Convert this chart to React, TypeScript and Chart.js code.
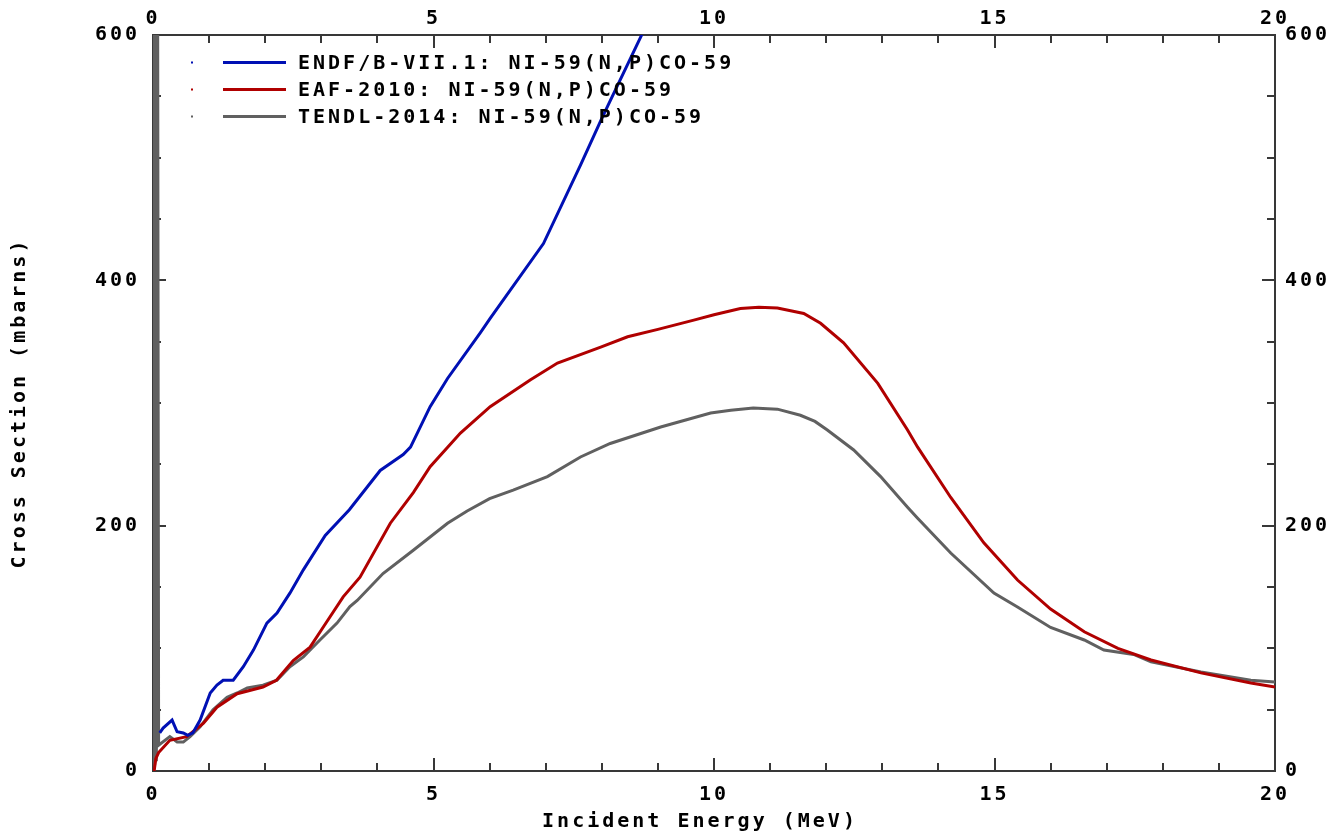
import React, { useEffect, useRef } from 'react';
import { Chart, registerables } from 'chart.js';

Chart.register(...registerables);

const FONT_FAMILY = '"DejaVu Sans Mono", "Liberation Mono", monospace';
const FONT_SIZE = 20;
const LETTER_SPACING = '3px';

// ENDF/B-VII.1
const endfE = [0.12, 0.18, 0.34, 0.43, 0.54, 0.62, 0.71, 0.84, 1.02, 1.14, 1.25, 1.43, 1.61, 1.79, 2.03, 2.21, 2.44, 2.68, 3.07, 3.5, 4.05, 4.46, 4.59, 4.94, 5.25, 5.83, 6.01, 6.96, 7.62, 8.0, 8.69, 9.0, 10.0];
const endfS = [31, 35, 41.5, 32, 31, 29, 31, 41.5, 63.6, 70, 74, 74, 85, 98.6, 120.6, 128.8, 145, 164, 192, 213, 245, 258, 264, 297, 320, 357, 369, 430, 494, 532, 598, 628, 720];

// EAF-2010
const eafE = [0.0, 0.02, 0.05, 0.1, 0.3, 0.6, 0.9, 1.14, 1.5, 1.96, 2.2, 2.5, 2.8, 3.03, 3.39, 3.69, 4.23, 4.64, 4.94, 5.48, 6.01, 6.73, 7.21, 7.98, 8.46, 9.0, 9.64, 10.0, 10.47, 10.8, 11.13, 11.6, 11.9, 12.31, 12.92, 13.45, 13.63, 14.22, 14.81, 15.41, 16.0, 16.6, 17.2, 17.79, 18.68, 19.57, 20.0];
const eafS = [0, 0, 10, 15, 25, 28, 39, 52, 63, 68.5, 74, 90, 101, 117, 142, 158, 202, 227, 248, 275.5, 297, 319, 332.6, 345.6, 354, 360, 367.6, 372, 377, 378, 377.4, 373, 365, 349, 316, 278, 264, 223, 186, 155.7, 132, 113.5, 100, 90.5, 80, 71.7, 68.5];

// TENDL-2014
const tendlE = [0.0, 0.015, 0.03, 0.045, 0.06, 0.075, 0.1, 0.3, 0.43, 0.54, 0.66, 0.84, 1.07, 1.32, 1.5, 1.68, 1.96, 2.21, 2.44, 2.68, 2.98, 3.28, 3.51, 3.64, 4.1, 4.64, 5.25, 5.6, 6.0, 6.42, 7.03, 7.62, 8.15, 9.05, 9.94, 10.3, 10.7, 11.13, 11.54, 11.8, 12.02, 12.49, 12.97, 13.45, 13.63, 14.22, 14.99, 15.41, 16.0, 16.6, 16.95, 17.48, 17.79, 18.68, 19.57, 20.0];
const tendlS = [0, 900, 5, 900, 8, 900, 21, 28, 23.6, 23.6, 28, 36, 50, 60, 63.6, 67.7, 70, 74, 85, 93, 107, 120.6, 134, 139, 161, 180, 202, 212, 222, 229, 240, 256, 267, 280.4, 291.8, 294, 296, 295, 290, 285, 278, 261.7, 240, 215, 206, 177.7, 145, 133.7, 117, 106.8, 98.6, 95, 89, 80.7, 74, 72.6];

const seriesLabels = [
  'ENDF/B-VII.1: NI-59(N,P)CO-59',
  'EAF-2010: NI-59(N,P)CO-59',
  'TENDL-2014: NI-59(N,P)CO-59',
];
const seriesColors = ['#0010b4', '#b00000', '#606060'];

const xTicks = [0, 5, 10, 15, 20];
const yTicks = [0, 200, 400, 600];
const xTitle = 'Incident Energy (MeV)';
const yTitle = 'Cross Section (mbarns)';

const toPts = (xs: number[], ys: number[]) => xs.map((x, i) => ({ x, y: ys[i] }));

const tickFont = { family: FONT_FAMILY, size: FONT_SIZE, weight: 'bold' as const };

const framePlugin = {
  id: 'frameTicks',
  beforeUpdate(chart: any) {
    chart.ctx.letterSpacing = LETTER_SPACING;
  },
  beforeDraw(chart: any) {
    chart.ctx.letterSpacing = LETTER_SPACING;
  },
  beforeDatasetsDraw(chart: any) {
    const { ctx, chartArea, scales } = chart;
    const { left, right, top, bottom } = chartArea;
    ctx.save();
    ctx.strokeStyle = '#383838';
    ctx.lineWidth = 2;
    ctx.strokeRect(left, top, right - left, bottom - top);
    ctx.beginPath();
    for (let v = 0; v <= 20; v++) {
      const x = Math.round(scales.x.getPixelForValue(v));
      const len = v % 5 === 0 ? 13 : 8;
      ctx.moveTo(x, bottom);
      ctx.lineTo(x, bottom - len);
      ctx.moveTo(x, top);
      ctx.lineTo(x, top + len);
    }
    for (let v = 0; v <= 600; v += 50) {
      const y = Math.round(scales.y.getPixelForValue(v));
      const len = v % 200 === 0 ? 13 : 8;
      ctx.moveTo(left, y);
      ctx.lineTo(left + len, y);
      ctx.moveTo(right, y);
      ctx.lineTo(right - len, y);
    }
    ctx.stroke();
    ctx.restore();
  },
  afterDraw(chart: any) {
    const { ctx } = chart;
    ctx.save();
    ctx.letterSpacing = LETTER_SPACING;
    ctx.font = `bold ${FONT_SIZE}px ${FONT_FAMILY}`;
    ctx.textBaseline = 'middle';
    ctx.textAlign = 'left';
    seriesLabels.forEach((label, i) => {
      const y = 62.5 + i * 27;
      ctx.fillStyle = seriesColors[i];
      ctx.fillRect(191, y - 1, 2, 2);
      ctx.strokeStyle = seriesColors[i];
      ctx.lineWidth = 3;
      ctx.beginPath();
      ctx.moveTo(223, y);
      ctx.lineTo(286, y);
      ctx.stroke();
      ctx.fillStyle = '#000000';
      ctx.fillText(label, 298, y + 1);
    });
    // bottom axis title
    ctx.fillStyle = '#000000';
    ctx.textAlign = 'center';
    ctx.fillText(xTitle, 700, 822);
    ctx.restore();
  },
};

export default function App() {
  const ref = useRef<HTMLCanvasElement>(null);
  useEffect(() => {
    document.body.style.margin = '0';
    document.body.style.background = '#ffffff';
    const canvas = ref.current!;
    const chart = new Chart(canvas, {
      type: 'line',
      data: {
        datasets: [
          { label: seriesLabels[0], data: toPts(endfE, endfS), borderColor: seriesColors[0], borderWidth: 3, pointRadius: 0, tension: 0, fill: false },
          { label: seriesLabels[1], data: toPts(eafE, eafS), borderColor: seriesColors[1], borderWidth: 3, pointRadius: 0, tension: 0, fill: false },
          { label: seriesLabels[2], data: toPts(tendlE, tendlS), borderColor: seriesColors[2], borderWidth: 3, pointRadius: 0, tension: 0, fill: false },
        ],
      },
      options: {
        responsive: false,
        animation: false,
        events: [],
        layout: { padding: 0 },
        plugins: { legend: { display: false }, tooltip: { enabled: false } },
        scales: {
          x: {
            type: 'linear', position: 'bottom', min: 0, max: 20,
            afterBuildTicks: (s: any) => { s.ticks = xTicks.map((v) => ({ value: v })); },
            ticks: { font: tickFont, color: '#000', padding: 12, autoSkip: false, maxRotation: 0 },
            grid: { display: false, drawTicks: false },
            border: { display: false },
            afterFit: (s: any) => { s.height = 60; },
          },
          x2: {
            type: 'linear', position: 'top', min: 0, max: 20,
            afterBuildTicks: (s: any) => { s.ticks = xTicks.map((v) => ({ value: v })); },
            ticks: { font: tickFont, color: '#000', padding: 4, autoSkip: false, maxRotation: 0 },
            grid: { display: false, drawTicks: false },
            border: { display: false },
            afterFit: (s: any) => { s.height = 35; },
          },
          y: {
            type: 'linear', position: 'left', min: 0, max: 600,
            afterBuildTicks: (s: any) => { s.ticks = yTicks.map((v) => ({ value: v })); },
            ticks: { font: tickFont, color: '#000', padding: 13, autoSkip: false },
            grid: { display: false, drawTicks: false },
            border: { display: false },
            title: { display: true, text: yTitle, font: { ...tickFont, lineHeight: 1 }, color: '#000', padding: { top: 10, bottom: 0 } },
            afterFit: (s: any) => { s.width = 153; },
          },
          y2: {
            type: 'linear', position: 'right', min: 0, max: 600,
            afterBuildTicks: (s: any) => { s.ticks = yTicks.map((v) => ({ value: v })); },
            ticks: { font: tickFont, color: '#000', padding: 10, autoSkip: false },
            grid: { display: false, drawTicks: false },
            border: { display: false },
            afterFit: (s: any) => { s.width = 61; },
          },
        },
      },
      plugins: [framePlugin],
    } as any);
    return () => chart.destroy();
  }, []);
  return (
    <div style={{ width: 1336, height: 831 }}>
      <canvas ref={ref} width={1336} height={831} style={{ display: 'block' }} />
    </div>
  );
}
